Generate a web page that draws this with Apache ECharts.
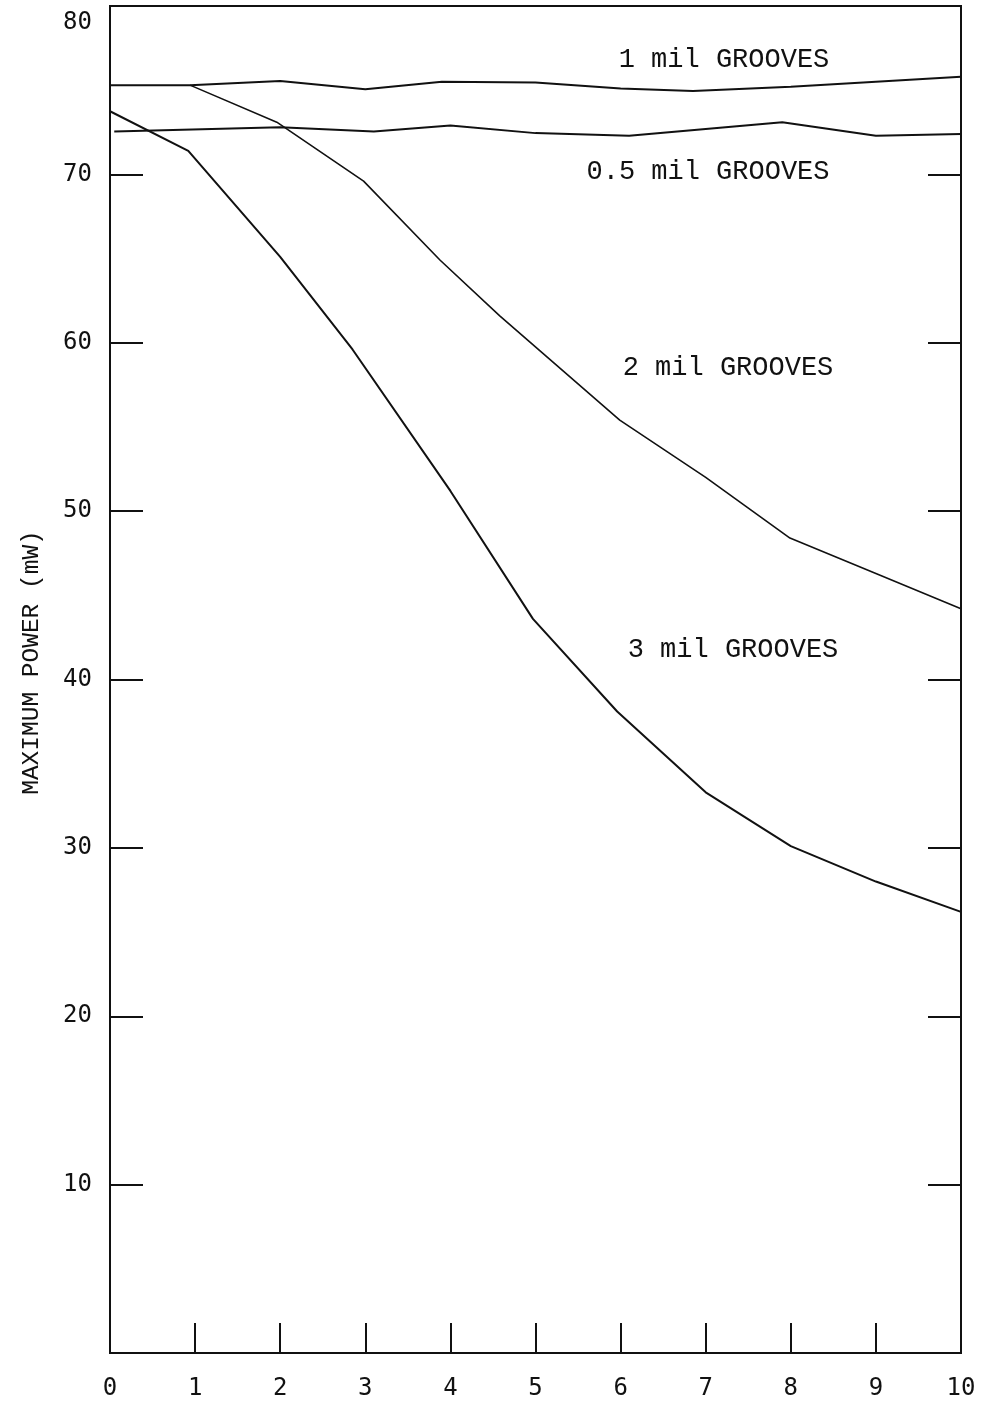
<!DOCTYPE html>
<html>
<head>
<meta charset="utf-8">
<script src="https://cdn.jsdelivr.net/npm/echarts@6/dist/echarts.min.js"></script>
<style>
html,body{margin:0;padding:0;background:#fff;}
#chart{width:982px;height:1401px;}
</style>
</head>
<body>
<div id="chart"></div>
<script>
// Data (x = groove spacing units, y = maximum power mW)
const xTicks = [0,1,2,3,4,5,6,7,8,9,10];
const yTicks = [0,10,20,30,40,50,60,70,80];
const seriesNames = ['1 mil GROOVES','0.5 mil GROOVES','2 mil GROOVES','3 mil GROOVES'];
const groove1 = [[0,75.3],[0.94,75.3],[2,75.55],[3,75.05],[3.9,75.5],[5,75.45],[6,75.1],[6.85,74.95],[8,75.2],[9,75.5],[10,75.8]];
const groove05 = [[0.05,72.55],[2,72.8],[3.1,72.55],[4,72.9],[5,72.45],[6.1,72.3],[7,72.7],[7.9,73.1],[9,72.3],[10,72.4]];
const groove2 = [[0.94,75.3],[1.96,73.1],[2.98,69.6],[3.88,64.9],[4.58,61.6],[5.99,55.4],[7,52.0],[7.99,48.4],[9,46.3],[10,44.2]];
const groove3 = [[0,73.75],[0.92,71.4],[2,65.1],[2.85,59.6],[4,51.2],[4.97,43.6],[5.96,38.1],[7,33.3],[8,30.1],[9,28.0],[10,26.2]];
const seriesData = [groove1, groove05, groove2, groove3];

const INK = '#111';
const chart = echarts.init(document.getElementById('chart'), null, {renderer:'canvas'});
const tickFont = {fontFamily:'DejaVu Sans Mono', fontSize:24, color:INK};
const option = {
  backgroundColor:'#fff',
  animation:false,
  grid:{left:110, right:21, top:6, bottom:47, show:true, borderColor:INK, borderWidth:2, backgroundColor:'transparent'},
  xAxis:{
    type:'value', min:xTicks[0], max:xTicks[xTicks.length-1], interval:1,
    axisLine:{show:true, lineStyle:{color:INK, width:2}},
    axisTick:{show:true, inside:true, length:30, lineStyle:{color:INK, width:2}},
    axisLabel:Object.assign({margin:24}, tickFont),
    splitLine:{show:false}
  },
  yAxis:[{
    type:'value', min:yTicks[0], max:yTicks[yTicks.length-1], interval:10,
    name:'MAXIMUM POWER (mW)', nameLocation:'middle', nameGap:66, nameRotate:90,
    nameTextStyle:{fontFamily:'Liberation Mono', fontSize:24.5, color:INK, padding:[0,0,0,34]},
    axisLine:{show:true, lineStyle:{color:INK, width:2}},
    axisTick:{show:true, inside:true, length:33, lineStyle:{color:INK, width:2}},
    axisLabel:Object.assign({margin:18, showMinLabel:false,
      formatter:function(v){ return v===80 ? '{t|80}' : String(v); },
      rich:{t:{fontFamily:'DejaVu Sans Mono', fontSize:24, color:INK, padding:[34,0,0,0]}}}, tickFont),
    splitLine:{show:false}
  },{
    type:'value', position:'right', min:yTicks[0], max:yTicks[yTicks.length-1], interval:10,
    axisLine:{show:true, lineStyle:{color:INK, width:2}},
    axisTick:{show:true, inside:true, length:33, lineStyle:{color:INK, width:2}},
    axisLabel:{show:false}, splitLine:{show:false}
  }],
  series: seriesData.map((d,i)=>({
    name:seriesNames[i], type:'line', data:d, showSymbol:false, symbol:'none',
    lineStyle:{color:INK, width: i===2 ? 1.6 : 2}, z:3
  })),
  graphic:[
    {type:'text', x:724, y:60, style:{text:seriesNames[0], font:'27px "Liberation Mono"', fill:INK, align:'center', verticalAlign:'middle'}},
    {type:'text', x:708, y:172, style:{text:seriesNames[1], font:'27px "Liberation Mono"', fill:INK, align:'center', verticalAlign:'middle'}},
    {type:'text', x:728, y:368, style:{text:seriesNames[2], font:'27px "Liberation Mono"', fill:INK, align:'center', verticalAlign:'middle'}},
    {type:'text', x:733, y:650, style:{text:seriesNames[3], font:'27px "Liberation Mono"', fill:INK, align:'center', verticalAlign:'middle'}}
  ]
};
chart.setOption(option);
</script>
</body>
</html>
